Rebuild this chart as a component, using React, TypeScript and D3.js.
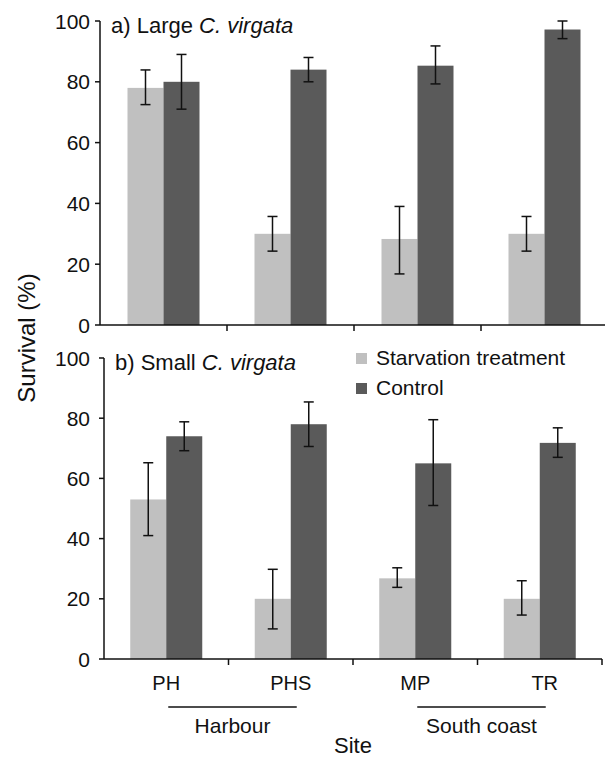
import React from "react";
import * as d3 from "d3";

const sites = ["PH", "PHS", "MP", "TR"];
const seriesNames = ["Starvation treatment", "Control"];
const yTicks = [0, 20, 40, 60, 80, 100];

// Panel a) Large C. virgata
const largeStarv = [78, 30, 28.3, 30];
const largeStarvLo = [72.5, 24.3, 16.8, 24.3];
const largeStarvHi = [83.9, 35.7, 39, 35.7];
const largeCtrl = [80, 84, 85.3, 97.2];
const largeCtrlLo = [71, 80, 79.3, 94.2];
const largeCtrlHi = [89, 88, 91.8, 100];

// Panel b) Small C. virgata
const smallStarv = [53, 20, 26.8, 20];
const smallStarvLo = [41, 10, 23.8, 14.6];
const smallStarvHi = [65.2, 29.8, 30.3, 26];
const smallCtrl = [74, 78, 65, 71.8];
const smallCtrlLo = [69.2, 70.6, 51, 67];
const smallCtrlHi = [78.8, 85.4, 79.5, 76.8];

const groups = [
  { name: "Harbour", from: "PH", to: "PHS" },
  { name: "South coast", from: "MP", to: "TR" },
];

const FONT = "'Liberation Sans', Arial, Helvetica, sans-serif";
const LIGHT = "#c0c0c0";
const DARK = "#5a5a5a";
const INK = "#111";

type PanelProps = {
  x0: number; x1: number; yTop: number; yBot: number;
  starv: number[]; starvLo: number[]; starvHi: number[];
  ctrl: number[]; ctrlLo: number[]; ctrlHi: number[];
  label: string; species: string; labelX: number; labelY: number;
};

function Panel(p: PanelProps) {
  const x = d3.scaleBand<string>().domain(sites).range([p.x0, p.x1]).paddingInner(0).paddingOuter(0);
  const y = d3.scaleLinear().domain([0, 100]).range([p.yBot, p.yTop]);
  const bw = 36;
  const cap = 5;
  const series = [
    { v: p.starv, lo: p.starvLo, hi: p.starvHi, fill: LIGHT, off: -bw },
    { v: p.ctrl, lo: p.ctrlLo, hi: p.ctrlHi, fill: DARK, off: 0 },
  ];
  const boundaries = sites.map((s) => (x(s) as number) + x.bandwidth());
  const words = p.species.split(" ");
  return (
    <g>
      {series.map((s, si) =>
        sites.map((site, i) => {
          const cx = (x(site) as number) + x.bandwidth() / 2;
          const bx = cx + s.off;
          return (
            <rect key={`${si}-${i}`} x={bx} y={y(s.v[i])} width={bw} height={y(0) - y(s.v[i])} fill={s.fill} />
          );
        })
      )}
      {series.map((s, si) =>
        sites.map((site, i) => {
          const cx = (x(site) as number) + x.bandwidth() / 2;
          const ex = cx + s.off + bw / 2;
          return (
            <g key={`e${si}-${i}`} stroke={INK} strokeWidth={1.5} fill="none">
              <line x1={ex} x2={ex} y1={y(s.lo[i])} y2={y(s.hi[i])} />
              <line x1={ex - cap} x2={ex + cap} y1={y(s.lo[i])} y2={y(s.lo[i])} />
              <line x1={ex - cap} x2={ex + cap} y1={y(s.hi[i])} y2={y(s.hi[i])} />
            </g>
          );
        })
      )}
      {/* y axis */}
      <line x1={p.x0} x2={p.x0} y1={p.yTop} y2={p.yBot} stroke={INK} strokeWidth={1.5} />
      {yTicks.map((t) => (
        <g key={t}>
          <line x1={p.x0 - 5} x2={p.x0} y1={y(t)} y2={y(t)} stroke={INK} strokeWidth={1.5} />
          <text x={90} y={y(t)} dy="0.36em" textAnchor="end" fontSize={21} fontFamily={FONT} fill={INK}>
            {t}
          </text>
        </g>
      ))}
      {/* x axis */}
      <line x1={p.x0} x2={p.x1} y1={p.yBot} y2={p.yBot} stroke={INK} strokeWidth={1.5} />
      {boundaries.map((bx, i) => (
        <line key={i} x1={bx} x2={bx} y1={p.yBot} y2={p.yBot + 6} stroke={INK} strokeWidth={1.5} />
      ))}
      <text x={p.labelX} y={p.labelY} fontSize={22} fontFamily={FONT} fill={INK}>
        {p.label} {words[0] + " "}
        <tspan fontStyle="italic">{words.slice(1).join(" ")}</tspan>
      </text>
    </g>
  );
}

export default function App() {
  const bx0 = 104, bx1 = 602;
  const xb = d3.scaleBand<string>().domain(sites).range([bx0, bx1]);
  const center = (s: string) => (xb(s) as number) + xb.bandwidth() / 2;
  return (
    <svg width={605} height={757} style={{ position: "absolute", left: 0, top: 0, background: "#fff" }}>
      <rect width={605} height={757} fill="#fff" />
      <Panel
        x0={100} x1={608} yTop={21} yBot={325}
        starv={largeStarv} starvLo={largeStarvLo} starvHi={largeStarvHi}
        ctrl={largeCtrl} ctrlLo={largeCtrlLo} ctrlHi={largeCtrlHi}
        label="a)" species="Large C. virgata" labelX={111} labelY={33}
      />
      <Panel
        x0={bx0} x1={bx1} yTop={358} yBot={659}
        starv={smallStarv} starvLo={smallStarvLo} starvHi={smallStarvHi}
        ctrl={smallCtrl} ctrlLo={smallCtrlLo} ctrlHi={smallCtrlHi}
        label="b)" species="Small C. virgata" labelX={115} labelY={370}
      />
      {/* legend */}
      {seriesNames.map((n, i) => (
        <g key={n}>
          <rect x={356} y={353 + i * 30} width={11} height={11} fill={i === 0 ? LIGHT : DARK} />
          <text x={376} y={365 + i * 30} fontSize={21} fontFamily={FONT} fill={INK}>{n}</text>
        </g>
      ))}
      {/* category labels */}
      {sites.map((s) => (
        <text key={s} x={center(s) + (s === "TR" ? 5 : 0)} y={690} textAnchor="middle" fontSize={20} fontFamily={FONT} fill={INK}>
          {s}
        </text>
      ))}
      {groups.map((g) => {
        const a = center(g.from) + 2;
        const b = center(g.to) + 6;
        return (
          <g key={g.name}>
            <line x1={a} x2={b} y1={707} y2={707} stroke={INK} strokeWidth={1.3} />
            <text x={(a + b) / 2} y={733} textAnchor="middle" fontSize={21} fontFamily={FONT} fill={INK}>{g.name}</text>
          </g>
        );
      })}
      <text x={353} y={753} textAnchor="middle" fontSize={22} fontFamily={FONT} fill={INK}>Site</text>
      <text transform="translate(35,338) rotate(-90)" textAnchor="middle" fontSize={24} fontFamily={FONT} fill={INK}>
        Survival (%)
      </text>
    </svg>
  );
}
